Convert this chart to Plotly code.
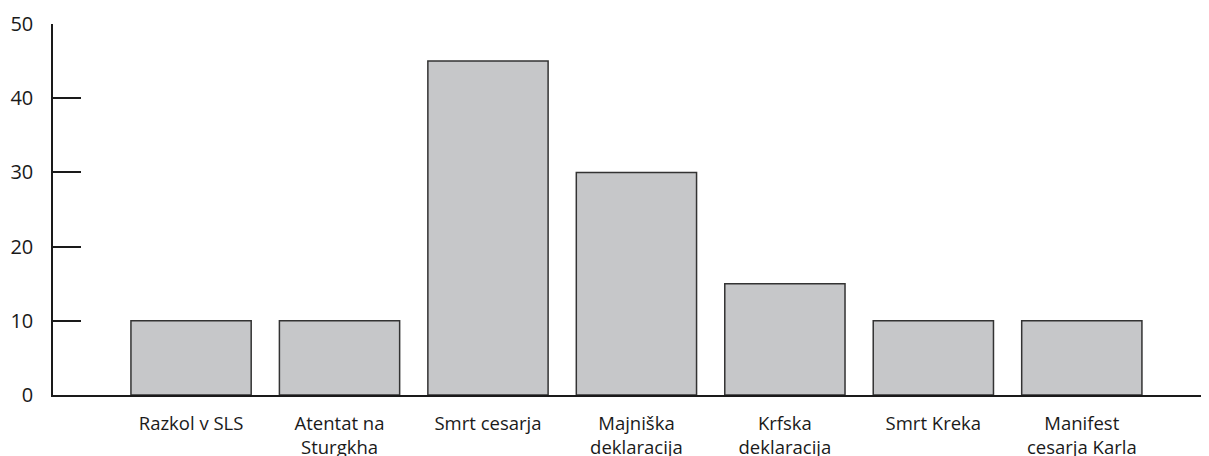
import plotly.graph_objects as go

categories = ["Razkol v SLS", "Atentat na<br>Sturgkha", "Smrt cesarja", "Majniška<br>deklaracija",
              "Krfska<br>deklaracija", "Smrt Kreka", "Manifest<br>cesarja Karla"]
values = [10, 10, 45, 30, 15, 10, 10]
y_ticks = [0, 10, 20, 30, 40, 50]

fig = go.Figure(go.Bar(
    x=list(range(len(categories))), y=values, width=0.81,
    marker=dict(color="#c6c7c9", line=dict(color="#333333", width=1.5)),
))

font = "Open Sans"
# page body has an 8px margin, so the figure is offset by 8px
fig.update_layout(
    width=1201, height=448,
    margin=dict(l=45, r=1, t=16, b=61),
    plot_bgcolor="white", paper_bgcolor="white",
    showlegend=False,
    font=dict(family=font, color="#1a1a1a", size=18),
)
fig.update_xaxes(
    range=[-0.93, 6.85], tickmode="array", tickvals=list(range(len(categories))), ticktext=categories,
    showgrid=False, zeroline=False, showline=True, linecolor="#1a1a1a", linewidth=1.5,
    ticks="outside", ticklen=11, tickcolor="rgba(0,0,0,0)", tickfont=dict(size=18.5),
    automargin=False,
)
fig.update_yaxes(
    range=[0, 50], tickmode="array", tickvals=y_ticks,
    showgrid=False, zeroline=False, showline=True, linecolor="#1a1a1a", linewidth=1.5,
    ticks="inside", ticklen=28, tickwidth=1.5, tickcolor="#1a1a1a",
    tickfont=dict(size=20), ticklabelstandoff=14, automargin=False,
)
fig.write_html("out.html")
